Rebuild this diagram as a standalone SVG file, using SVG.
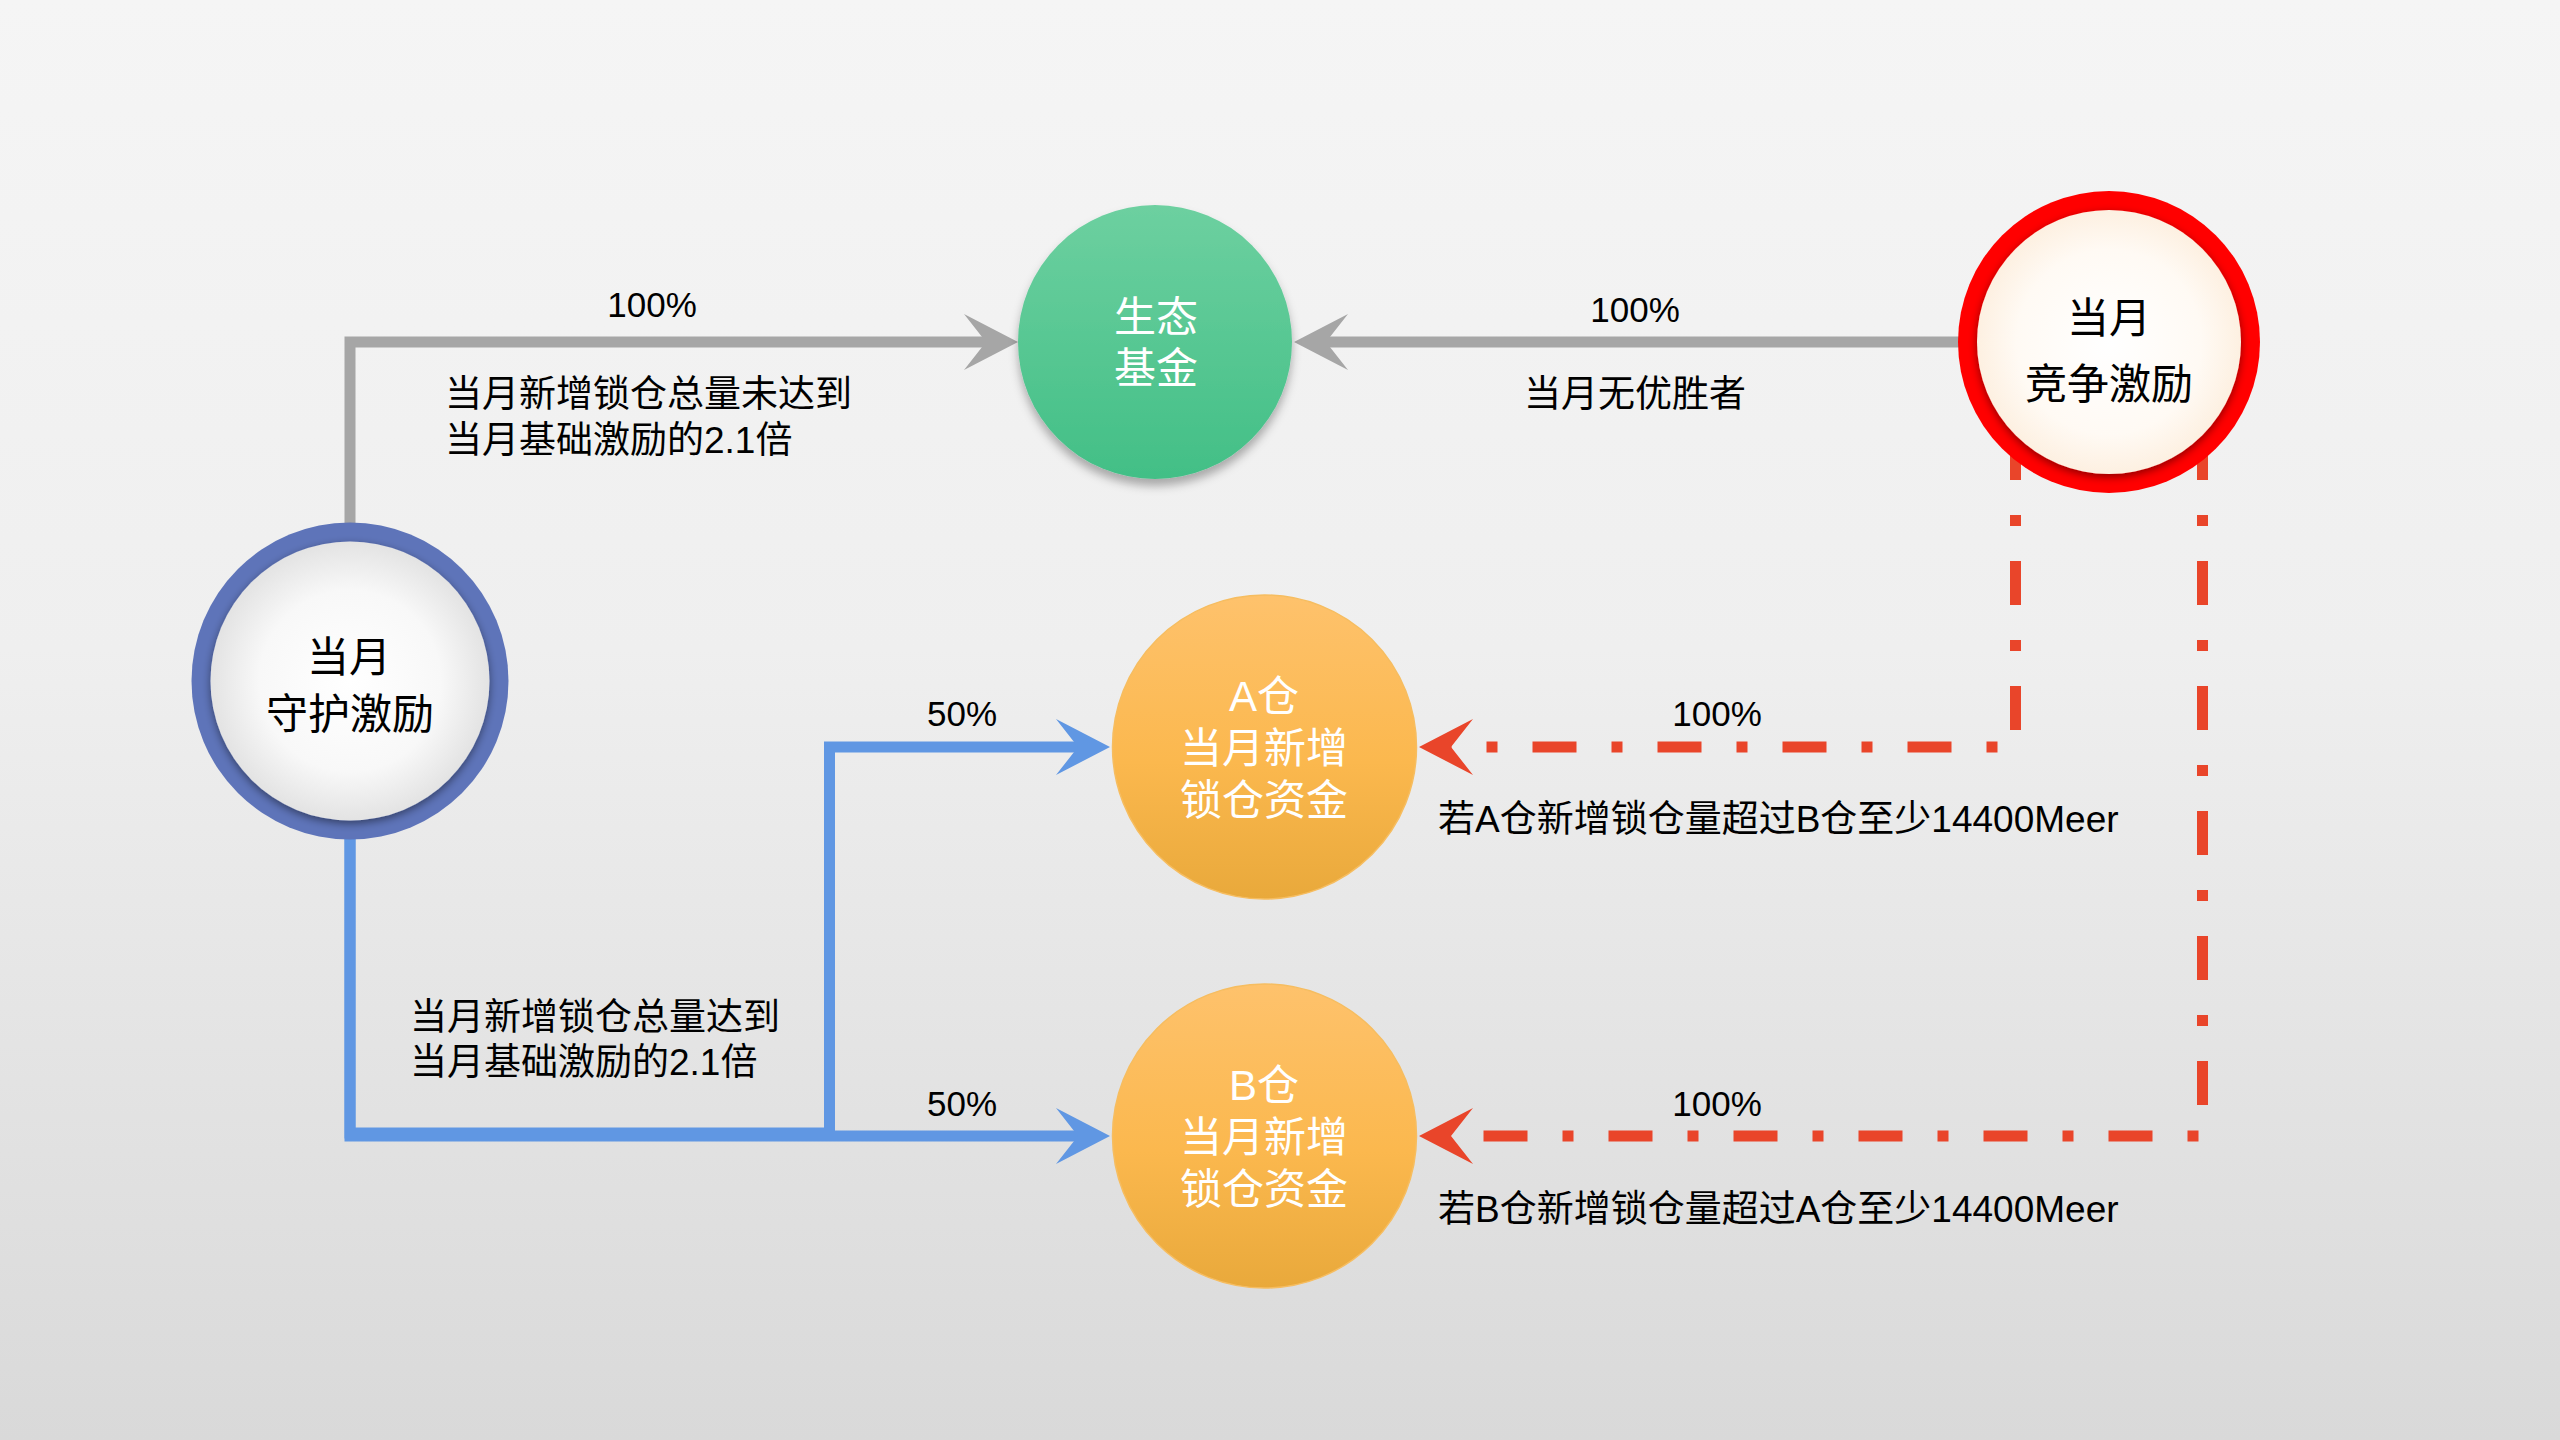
<svg xmlns="http://www.w3.org/2000/svg" width="2560" height="1440" viewBox="0 0 2560 1440">
<defs>
<linearGradient id="bg" x1="0" y1="0" x2="0" y2="1">
<stop offset="0" stop-color="#f5f5f5"/>
<stop offset="0.45" stop-color="#efefef"/>
<stop offset="1" stop-color="#d9d9d9"/>
</linearGradient>
<linearGradient id="gGreen" x1="0" y1="0" x2="0" y2="1">
<stop offset="0" stop-color="#6dd0a0"/>
<stop offset="1" stop-color="#42bf86"/>
</linearGradient>
<linearGradient id="gOrange" x1="0" y1="0" x2="0" y2="1">
<stop offset="0" stop-color="#fec26c"/>
<stop offset="0.55" stop-color="#fbb84e"/>
<stop offset="1" stop-color="#e9a93b"/>
</linearGradient>
<radialGradient id="gWhite" cx="0.5" cy="0.5" r="0.5">
<stop offset="0" stop-color="#ffffff"/>
<stop offset="0.65" stop-color="#f8f8f8"/>
<stop offset="1" stop-color="#e3e3e3"/>
</radialGradient>
<radialGradient id="gCream" cx="0.5" cy="0.5" r="0.5">
<stop offset="0" stop-color="#ffffff"/>
<stop offset="0.7" stop-color="#fffaf4"/>
<stop offset="1" stop-color="#fdf0e1"/>
</radialGradient>
<filter id="dropGreen" x="-20%" y="-20%" width="140%" height="150%">
<feDropShadow dx="0" dy="7" stdDeviation="5" flood-color="#000" flood-opacity="0.3"/>
</filter>
<filter id="innerDrop" x="-20%" y="-20%" width="140%" height="150%">
<feDropShadow dx="0" dy="3" stdDeviation="4" flood-color="#000" flood-opacity="0.45"/>
</filter>
<marker id="arrGray" markerUnits="userSpaceOnUse" markerWidth="80" markerHeight="80" refX="0" refY="0" orient="auto" overflow="visible">
<path d="M32,0 L-22,-28 L0,0 L-22,28 Z" fill="#a6a6a6"/>
</marker>
<marker id="arrBlue" markerUnits="userSpaceOnUse" markerWidth="80" markerHeight="80" refX="0" refY="0" orient="auto" overflow="visible">
<path d="M32,0 L-22,-28 L0,0 L-22,28 Z" fill="#6097e3"/>
</marker>
<marker id="arrRed" markerUnits="userSpaceOnUse" markerWidth="80" markerHeight="80" refX="0" refY="0" orient="auto" overflow="visible">
<path d="M32,0 L-22,-28 L0,0 L-22,28 Z" fill="#e9452a"/>
</marker>
</defs>
<style>
.gray{fill:none;stroke:#a6a6a6;stroke-width:11;marker-end:url(#arrGray)}
.blue{fill:none;stroke:#6097e3;stroke-width:11;marker-end:url(#arrBlue)}
.red{fill:none;stroke:#e9452a;stroke-width:11;stroke-dasharray:44 35 11 35;marker-end:url(#arrRed)}
.lbl{font-family:"Liberation Sans","Noto Sans CJK SC",sans-serif;font-size:37px;fill:#000}
.pct{font-family:"Liberation Sans","Noto Sans CJK SC",sans-serif;font-size:35px;fill:#000;text-anchor:middle}
.nt{font-family:"Liberation Sans","Noto Sans CJK SC",sans-serif;font-size:42px;text-anchor:middle}
.w{fill:#ffffff}
.k{fill:#000000}
</style>
<rect x="0" y="0" width="2560" height="1440" fill="url(#bg)"/>

<g id="connectors">
<path class="gray" d="M350,681 V342 H986"/>
<path class="gray" d="M2109,342 H1326"/>
<path class="blue" d="M350,681 V1133 H829.5 V747 H1078"/>
<path class="blue" d="M350,681 V1136 H1078"/>
<path class="red" d="M2015.5,436 V747 H1451"/>
<path class="red" d="M2202.5,436 V1136 H1451"/>
</g>

<g id="edge-labels">
<text class="pct" x="652" y="317">100%</text>
<text class="lbl" x="445" y="407">当月新增锁仓总量未达到</text>
<text class="lbl" x="445" y="453">当月基础激励的2.1倍</text>
<text class="pct" x="1635" y="322">100%</text>
<text class="lbl" x="1635" y="407" text-anchor="middle">当月无优胜者</text>
<text class="pct" x="962" y="726">50%</text>
<text class="pct" x="962" y="1116">50%</text>
<text class="lbl" x="410" y="1030">当月新增锁仓总量达到</text>
<text class="lbl" x="410" y="1075">当月基础激励的2.1倍</text>
<text class="pct" x="1717" y="726">100%</text>
<text class="lbl" x="1438" y="832">若A仓新增锁仓量超过B仓至少14400Meer</text>
<text class="pct" x="1717" y="1116">100%</text>
<text class="lbl" x="1438" y="1222">若B仓新增锁仓量超过A仓至少14400Meer</text>
</g>

<g id="node-eco">
<circle cx="1155" cy="342" r="137" fill="url(#gGreen)" filter="url(#dropGreen)"/>
<text class="nt w" x="1156" y="332">生态</text>
<text class="nt w" x="1156" y="383">基金</text>
</g>

<g id="node-compete">
<circle cx="2109" cy="342" r="151" fill="#ff0000"/>
<circle cx="2109" cy="342" r="132" fill="url(#gCream)" filter="url(#innerDrop)"/>
<text class="nt k" x="2109" y="333">当月</text>
<text class="nt k" x="2109" y="399">竞争激励</text>
</g>

<g id="node-guard">
<circle cx="350" cy="681" r="158.5" fill="#5e74b9"/>
<circle cx="350" cy="681" r="139.5" fill="url(#gWhite)" filter="url(#innerDrop)"/>
<text class="nt k" x="349" y="672">当月</text>
<text class="nt k" x="350" y="729">守护激励</text>
</g>

<g id="node-a">
<circle cx="1264.5" cy="747" r="152" fill="url(#gOrange)" stroke="#f6bd60" stroke-width="1.5"/>
<text class="nt w" x="1264" y="711">A仓</text>
<text class="nt w" x="1264" y="763">当月新增</text>
<text class="nt w" x="1264" y="815">锁仓资金</text>
</g>

<g id="node-b">
<circle cx="1264.5" cy="1136" r="152" fill="url(#gOrange)" stroke="#f6bd60" stroke-width="1.5"/>
<text class="nt w" x="1264" y="1100">B仓</text>
<text class="nt w" x="1264" y="1152">当月新增</text>
<text class="nt w" x="1264" y="1204">锁仓资金</text>
</g>
</svg>
